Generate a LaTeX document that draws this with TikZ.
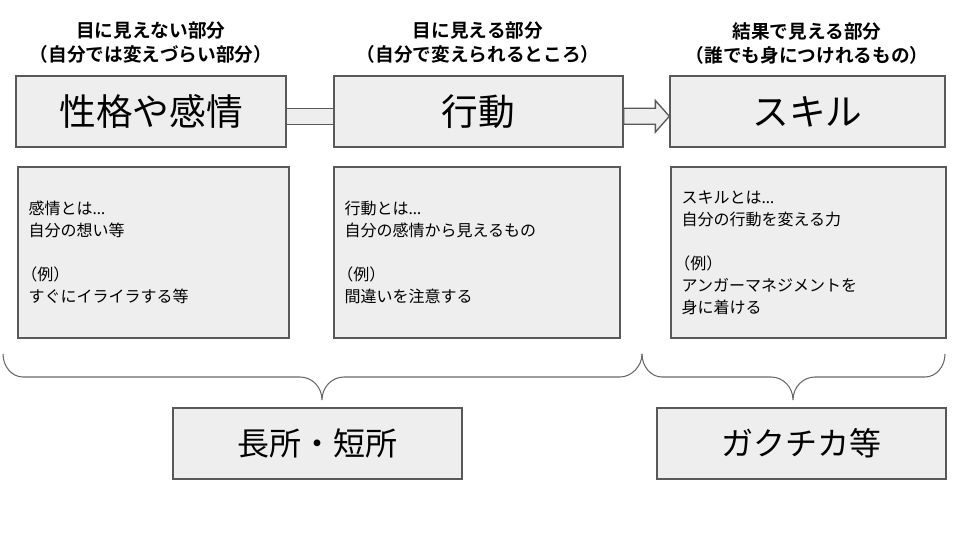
\documentclass[tikz,border=0pt]{standalone}
\usepackage{fontspec}
\setmainfont{Noto Sans CJK JP}[BoldFont={Noto Sans CJK JP Bold}]
\newfontfamily\latinfont{Noto Sans}
\usetikzlibrary{calc}
\definecolor{boxfill}{RGB}{238,238,238}
\definecolor{boxline}{RGB}{89,89,89}
\definecolor{braceline}{RGB}{105,105,105}
\newcommand{\ellip}{{\latinfont …}}
\newcommand{\rei}{\leavevmode\kern-0.45em（例）}
\begin{document}
\begin{tikzpicture}[x=0.75pt,y=-0.75pt,
  head/.style={align=center,font=\fontsize{14}{18}\selectfont\bfseries},
  topbox/.style={draw=boxline,line width=1pt,fill=boxfill,inner sep=0pt,
    minimum height=53.25pt,font=\fontsize{27.5}{30}\selectfont},
  notebox/.style={draw=boxline,line width=1pt,fill=boxfill,inner xsep=8pt,
    minimum height=128.25pt,align=left,font=\fontsize{12}{16.5}\selectfont},
  endbox/.style={draw=boxline,line width=1pt,fill=boxfill,inner sep=0pt,
    minimum width=216.75pt,minimum height=53.25pt,font=\fontsize{24}{28}\selectfont},
  bar/.style={draw=boxline,line width=1pt,fill=boxfill,line join=miter},
  brace/.style={draw=braceline,line width=0.8pt}]
\useasboundingbox (0,0) rectangle (960,540);

\node(H1)[head] at (151,43) {目に見えない部分\\（自分では変えづらい部分）};
\node(H2)[head] at (478,43) {目に見える部分\\（自分で変えられるところ）};
\node(H3)[head] at (807,43) {結果で見える部分\\（誰でも身につけれるもの）};

\node(T1)[topbox,minimum width=202.5pt] at (151,111.5) {性格や感情};
\node(T2)[topbox,minimum width=216.75pt] at (478.5,111.5) {行動};
\node(T3)[topbox,minimum width=206.25pt] at (807.5,111.5) {スキル};

% plain bar, then block arrow
\draw[bar] ($(T1.east)+(0,-3.2)$) rectangle ($(T2.west)+(0,12.8)$);
\draw[bar] ($(T2.east)+(0,-3.2)$) -- ($(T3.west)+(-14,-3.2)$)
  -- ($(T3.west)+(-14,-11)$) -- ($(T3.west)+(0,4.8)$)
  -- ($(T3.west)+(-14,20.6)$) -- ($(T3.west)+(-14,12.8)$)
  -- ($(T2.east)+(0,12.8)$) -- cycle;

\node(N1)[notebox,text width=187.25pt] at (153.5,252.5)
  {感情とは\ellip\\自分の想い等\\[16.5pt]\rei\\すぐにイライラする等};
\node(N2)[notebox,text width=198.5pt] at (477,252.5)
  {行動とは\ellip\\自分の感情から見えるもの\\[16.5pt]\rei\\間違いを注意する};
\node(N3)[notebox,text width=190.25pt] at (808.5,252.5)
  {スキルとは\ellip\\自分の行動を変える力\\[16.5pt]\rei\\アンガーマネジメントを\\身に着ける};

% braces
\draw[brace] (3,354) .. controls (3,366.6) and (12,377) .. (23,377) -- (300,377)
  .. controls (312,377) and (322,387) .. (322,400)
  .. controls (322,387) and (332,377) .. (344,377) -- (620,377)
  .. controls (631,377) and (642,366.6) .. (642,354);
\draw[brace] (642,354) .. controls (642,366.6) and (651,377) .. (662,377) -- (771,377)
  .. controls (783,377) and (793,387) .. (793,400)
  .. controls (793,387) and (803,377) .. (815,377) -- (925,377)
  .. controls (936,377) and (945,366.6) .. (945,354);

\node(B1)[endbox] at (317.5,443.5) {長所・短所};
\node(B2)[endbox] at (801.5,443.5) {ガクチカ等};
\end{tikzpicture}
\end{document}
